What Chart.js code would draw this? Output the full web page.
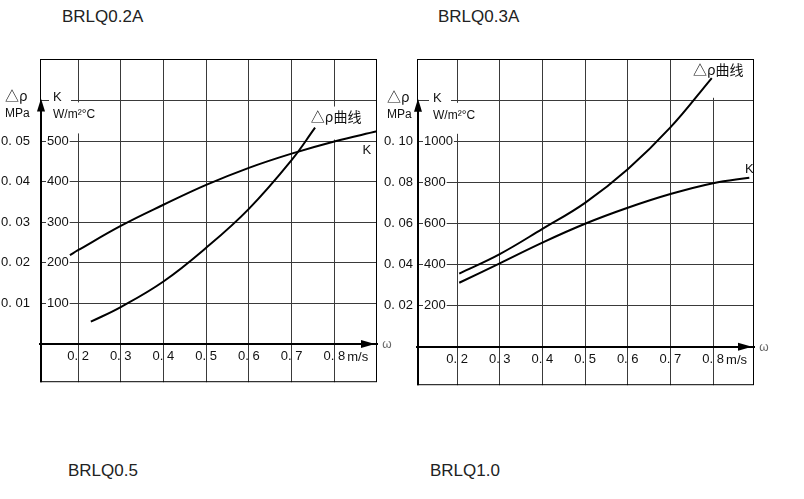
<!DOCTYPE html>
<html>
<head>
<meta charset="utf-8">
<script src="https://cdn.jsdelivr.net/npm/chart.js@4.4.1/dist/chart.umd.min.js"></script>
<style>
  body { margin: 0; background: #fff; width: 804px; height: 499px; position: relative; overflow: hidden; font-family: "Liberation Sans", Arial, sans-serif; }
  .t { position: absolute; font-size: 17px; line-height: 17px; color: #222; }
  canvas { position: absolute; top: 0; }
</style>
</head>
<body>
<div class="t" style="left:62px;top:8px">BRLQ0.2A</div>
<div class="t" style="left:438px;top:8px">BRLQ0.3A</div>
<div class="t" style="left:68px;top:462px">BRLQ0.5</div>
<div class="t" style="left:430px;top:462px">BRLQ1.0</div>
<canvas id="c1" width="400" height="400" style="left:0"></canvas>
<canvas id="c2" width="424" height="400" style="left:380px"></canvas>
<script>
// velocity ticks (m/s)
const xTicks = [0.2, 0.3, 0.4, 0.5, 0.6, 0.7, 0.8];

// BRLQ0.2A
const aKX = [0.181, 0.2, 0.3, 0.4, 0.5, 0.6, 0.7, 0.8, 0.9];
const aK = [219, 231, 291, 343, 392, 434, 469, 499, 524];
const aDpX = [0.23, 0.3, 0.4, 0.5, 0.6, 0.7, 0.755];
const aDp = [0.0055, 0.0091, 0.0154, 0.0237, 0.0333, 0.0453, 0.0533];
const aKGrid = [0, 100, 200, 300, 400, 500, 600];
const aKTicks = [100, 200, 300, 400, 500];
const aDpTicks = [0.01, 0.02, 0.03, 0.04, 0.05];

// BRLQ0.3A
const bKX = [0.205, 0.3, 0.4, 0.5, 0.6, 0.7, 0.8, 0.885];
const bK = [312, 407, 508, 600, 678, 745, 798, 825];
const bDpX = [0.205, 0.3, 0.4, 0.5, 0.6, 0.7, 0.797];
const bDp = [0.0357, 0.0452, 0.0575, 0.0702, 0.0866, 0.1070, 0.1311];
const bKGrid = [0, 200, 400, 600, 800, 1000, 1200];
const bKTicks = [200, 400, 600, 800, 1000];
const bDpTicks = [0.02, 0.04, 0.06, 0.08, 0.10];

const FONT = "'Liberation Sans', Arial, sans-serif";
const CJK = "'Noto Sans CJK SC', sans-serif";
const GRID = '#3a3a3a';
const INK = '#111';

function fmt(v, d) { return v.toFixed(d).replace('.', '. '); }
function pts(xs, ys) { return xs.map((x, i) => ({ x: x, y: ys[i] })); }

// box, arrows, axis captions and curve labels
const framePlugin = {
  id: 'frame',
  beforeDatasetsDraw(chart, args, o) {
    const ctx = chart.ctx, a = chart.chartArea;
    const sx = chart.scales.x, sy = chart.scales.yK;
    const yTop = sy.getPixelForValue(o.kTop);
    ctx.save();
    ctx.fillStyle = '#fff';
    ctx.fillRect(a.left + o.kX - 4, yTop - 12, 22, 14);
    ctx.fillRect(a.left + o.kX - 4, yTop + 2, 50, 31);
    o.notes.forEach(n => {
      if (!n.pad) return;
      ctx.font = n.font;
      const w = ctx.measureText(n.text).width;
      const x = sx.getPixelForValue(n.x), y = sy.getPixelForValue(n.y);
      ctx.fillRect(x - n.pad[0], y - n.pad[1], w + 2 * n.pad[0], n.pad[1] + n.pad[2]);
    });
    ctx.restore();
  },
  afterDatasetsDraw(chart, args, o) {
    const ctx = chart.ctx, a = chart.chartArea;
    const sx = chart.scales.x, sy = chart.scales.yK;
    const yTop = sy.getPixelForValue(o.kTop);
    const y0 = sy.getPixelForValue(0);
    ctx.save();
    // frame
    ctx.strokeStyle = '#000';
    ctx.lineWidth = 1;
    ctx.strokeRect(a.left + 0.5, a.top + 0.5, a.width - 1, a.height - 1);
    // vertical axis with arrow
    ctx.lineWidth = 2;
    ctx.beginPath();
    ctx.moveTo(a.left + 1, a.bottom);
    ctx.lineTo(a.left + 1, yTop + 8);
    ctx.stroke();
    ctx.fillStyle = '#000';
    ctx.beginPath();
    ctx.moveTo(a.left + 1, yTop - 2);
    ctx.lineTo(a.left + 5, yTop + 11);
    ctx.lineTo(a.left - 3, yTop + 11);
    ctx.closePath();
    ctx.fill();
    // horizontal arrow head
    ctx.beginPath();
    ctx.moveTo(a.right - 2, y0);
    ctx.lineTo(a.right - 16, y0 - 4);
    ctx.lineTo(a.right - 16, y0 + 4);
    ctx.closePath();
    ctx.fill();
    // captions
    ctx.fillStyle = INK;
    ctx.textAlign = 'left';
    ctx.textBaseline = 'alphabetic';
    ctx.font = '14px ' + CJK;
    ctx.fillText('△ρ', a.left + o.dpX, yTop + 1);
    ctx.font = '12px ' + FONT;
    ctx.fillText('MPa', a.left + o.dpX, yTop + 17);
    ctx.font = '13px ' + FONT;
    ctx.fillText('K', a.left + o.kX, yTop + 1);
    ctx.font = '12px ' + FONT;
    ctx.fillText('W/m²°C', a.left + o.kX, yTop + 18);
    ctx.font = '13px ' + FONT;
    ctx.fillText('m/s', sx.getPixelForValue(xTicks[xTicks.length - 1]) + 13, y0 + 17);
    // omega
    ctx.fillStyle = '#666';
    ctx.font = '12px ' + FONT;
    ctx.textAlign = 'center';
    ctx.textBaseline = 'middle';
    ctx.fillText('ω', a.right + 10, y0 + 1);
    // curve labels
    ctx.fillStyle = INK;
    ctx.textAlign = 'left';
    ctx.textBaseline = 'alphabetic';
    o.notes.forEach(n => {
      ctx.font = n.font;
      ctx.fillText(n.text, sx.getPixelForValue(n.x), sy.getPixelForValue(n.y));
    });
    ctx.restore();
  }
};

function build(id, s) {
  return new Chart(document.getElementById(id), {
    type: 'line',
    data: {
      datasets: [
        { label: 'K', data: pts(s.kX, s.k), yAxisID: 'yK' },
        { label: 'Δρ', data: pts(s.dpX, s.dp), yAxisID: 'yDp' }
      ]
    },
    options: {
      responsive: false,
      animation: false,
      layout: { padding: { top: 59, bottom: 10, right: s.padR, left: 0 } },
      elements: {
        line: { borderColor: '#000', borderWidth: 2, tension: 0.4, fill: false },
        point: { radius: 0 }
      },
      plugins: {
        legend: { display: false },
        tooltip: { enabled: false },
        frame: { kTop: s.kGrid[s.kGrid.length - 1], dpX: s.dpX0, kX: s.kX0, notes: s.notes }
      },
      scales: {
        x: {
          type: 'linear', min: s.xMin, max: s.xMax, position: { yK: 0 },
          afterBuildTicks: sc => { sc.ticks = xTicks.map(v => ({ value: v })); },
          grid: { color: GRID, lineWidth: 1, drawTicks: false },
          border: { display: true, color: '#000', width: 2 },
          ticks: { color: INK, font: { family: FONT, size: 13 }, padding: 5, maxRotation: 0, callback: v => fmt(v, 1) }
        },
        yDp: {
          type: 'linear', position: 'left', weight: 1, min: s.dpMin, max: s.dpMax,
          afterBuildTicks: sc => { sc.ticks = s.dpTicks.map(v => ({ value: v })); },
          afterFit: sc => { sc.width = s.dpW; },
          grid: { display: false, drawTicks: false },
          border: { display: false },
          ticks: { color: INK, font: { family: FONT, size: 13 }, padding: s.dpPad, callback: v => fmt(v, 2) }
        },
        yK: {
          type: 'linear', position: 'left', weight: 0, min: s.kMin, max: s.kMax,
          afterBuildTicks: sc => { sc.ticks = s.kGrid.map(v => ({ value: v })); },
          afterFit: sc => { sc.width = 0; },
          grid: { color: GRID, lineWidth: 1, drawTicks: false },
          border: { display: false },
          ticks: {
            mirror: true, padding: 7, color: INK, font: { family: FONT, size: 13 },
            callback: v => s.kTicks.includes(v) ? String(v) : '',
            showLabelBackdrop: c => s.kTicks.includes(c.tick.value),
            backdropColor: '#fff',
            backdropPadding: { left: 1, right: 1, top: 0, bottom: 0 }
          }
        }
      }
    },
    plugins: [framePlugin]
  });
}

build('c1', {
  kX: aKX, k: aK, dpX: aDpX, dp: aDp, kGrid: aKGrid, kTicks: aKTicks, dpTicks: aDpTicks,
  xMin: 0.111, xMax: 0.9, kMin: -94, kMax: 702, dpMin: -0.0094, dpMax: 0.0702,
  padR: 23, dpW: 40, dpPad: 10, dpX0: -35, kX0: 13,
  notes: [
    { text: '△ρ曲线', x: 0.745, y: 548, font: '14px ' + CJK, pad: [2, 15, 18] },
    { text: 'K', x: 0.866, y: 469, font: '13px ' + FONT }
  ]
});

build('c2', {
  kX: bKX, k: bK, dpX: bDpX, dp: bDp, kGrid: bKGrid, kTicks: bKTicks, dpTicks: bDpTicks,
  xMin: 0.106, xMax: 0.896, kMin: -188, kMax: 1404, dpMin: -0.0188, dpMax: 0.1404,
  padR: 50, dpW: 37, dpPad: 4, dpX0: -30, kX0: 16,
  notes: [
    { text: '△ρ曲线', x: 0.753, y: 1327, font: '14px ' + CJK, pad: [2, 16, 23] },
    { text: 'K', x: 0.875, y: 846, font: '13px ' + FONT }
  ]
});
</script>
</body>
</html>
